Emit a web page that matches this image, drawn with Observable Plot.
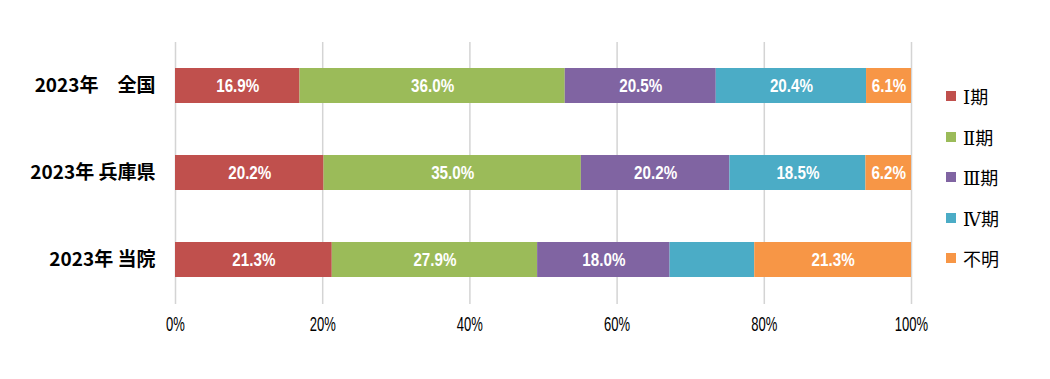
<!DOCTYPE html>
<html><head><meta charset="utf-8">
<script src="https://cdn.jsdelivr.net/npm/d3@7"></script>
<script src="https://cdn.jsdelivr.net/npm/@observablehq/plot@0.6"></script>
<style>
body{margin:0;background:#fff;}
#wrap{position:relative;width:1050px;height:379px;}
#legend{position:absolute;left:946px;top:76px;font-family:"DejaVu Serif","Noto Sans CJK JP",serif;font-size:18px;color:#000;}
#legend .it{display:flex;align-items:center;height:40.5px;}
#legend .sw{width:10px;height:10px;margin-right:7px;}
#legend .k{font-family:"Noto Sans CJK JP",sans-serif;}
</style></head>
<body><div id="wrap"></div>
<script>
const groups = ["2023年　全国", "2023年 兵庫県", "2023年 当院"];
const stages = ["Ⅰ期", "Ⅱ期", "Ⅲ期", "Ⅳ期", "不明"];
const colors = ["#C0504D", "#9BBB59", "#8064A2", "#4BACC6", "#F79646"];
const valuesNational = [16.9, 36.0, 20.5, 20.4, 6.1];
const valuesHyogo = [20.2, 35.0, 20.2, 18.5, 6.2];
const valuesHospital = [21.3, 27.9, 18.0, 11.5, 21.3];
const showLabel = [[1,1,1,1,1],[1,1,1,1,1],[1,1,1,0,1]];
const xTicks = [0, 20, 40, 60, 80, 100];

const series = [valuesNational, valuesHyogo, valuesHospital];
const data = [];
groups.forEach((g, gi) => stages.forEach((s, si) => data.push({
  group: g, stage: s, value: series[gi][si], show: showLabel[gi][si] === 1
})));

const numFont = '"Liberation Sans",Arial,sans-serif';
const stackOpts = {x: "value", y: "group", z: "stage", order: stages, offset: "normalize"};

const chart = Plot.plot({
  width: 1050, height: 379,
  marginLeft: 175, marginRight: 139, marginTop: 42, marginBottom: 75,
  x: {domain: [0, 1], ticks: xTicks.map(d => d / 100), tickFormat: d => Math.round(d * 100) + "%",
      grid: false, label: null},
  y: {domain: groups, range: [15, 330], padding: 0.6, label: null},
  color: {domain: stages, range: colors},
  marks: [
    Plot.gridX(xTicks.map(d => d / 100), {stroke: "#d4d4d4", strokeOpacity: 1, strokeWidth: 1.5}),
    Plot.axisX({ticks: xTicks.map(d => d / 100), tickFormat: d => Math.round(d * 100) + "%",
      tickSize: 0, tickPadding: 12, fontSize: 21, fontFamily: numFont, color: "#000", label: null}),
    Plot.axisY({tickSize: 0, tickPadding: 20, fontSize: 19, fontWeight: "bold",
      fontFamily: '"Noto Sans CJK JP",sans-serif', color: "#000", label: null}),
    Plot.barX(data, Plot.stackX({...stackOpts, fill: "stage", inset: 0})),
    Plot.text(data, Plot.stackX({...stackOpts,
      text: d => d.show ? d.value.toFixed(1) + "%" : "", fill: "white", fontWeight: "bold",
      fontSize: 19, fontFamily: numFont}))
  ]
});

// condense numeric text horizontally (the reference uses a narrow font)
function condense(sel, s) {
  chart.querySelectorAll(sel).forEach(el => {
    const t = el.getAttribute("transform") || "";
    el.setAttribute("transform", `${t} scale(${s},1)`);
  });
}
condense('g[aria-label="x-axis tick label"] text', 0.62);
condense('g[aria-label="text"] text', 0.8);

const wrap = document.getElementById("wrap");
wrap.appendChild(chart);
const leg = document.createElement("div");
leg.id = "legend";
stages.forEach((s, i) => {
  const it = document.createElement("div"); it.className = "it";
  const sw = document.createElement("div"); sw.className = "sw"; sw.style.background = colors[i];
  const t = document.createElement("span");
  if (s.endsWith("期")) {
    const r = document.createElement("span"); r.textContent = s.slice(0, -1);
    const k = document.createElement("span"); k.className = "k"; k.textContent = "期";
    t.appendChild(r); t.appendChild(k);
  } else { t.className = "k"; t.textContent = s; }
  it.appendChild(sw); it.appendChild(t); leg.appendChild(it);
});
wrap.appendChild(leg);
</script></body></html>
